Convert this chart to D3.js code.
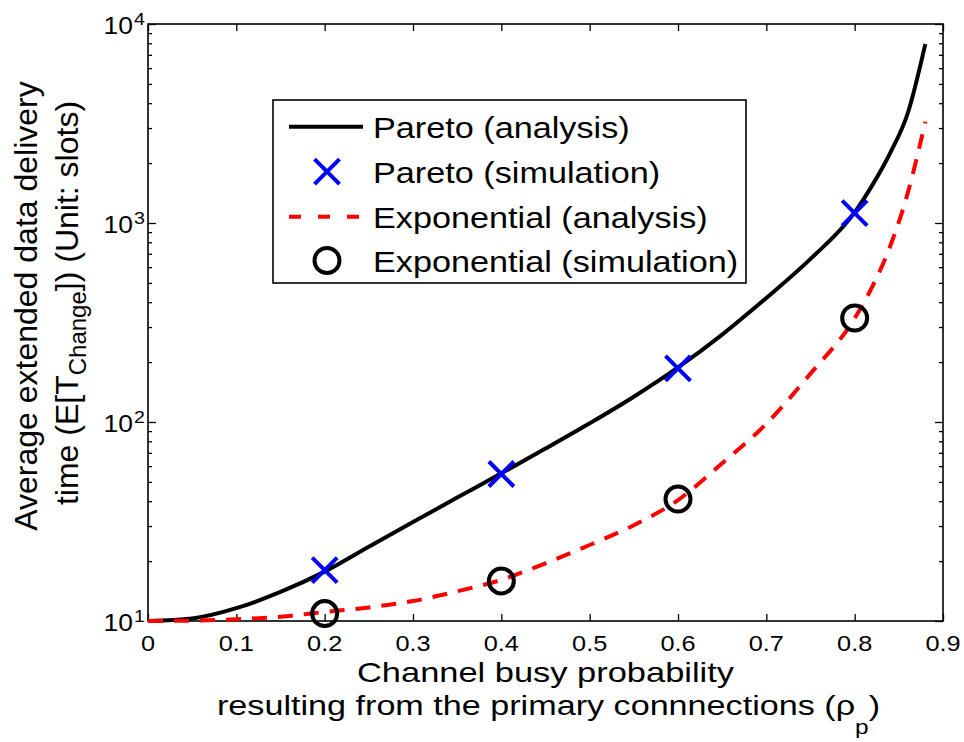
<!DOCTYPE html>
<html>
<head>
<meta charset="utf-8">
<script src="https://cdn.jsdelivr.net/npm/d3@7"></script>
<style>
  html, body { margin: 0; padding: 0; background: #fff; }
  svg { display: block; }
  text { font-family: "Liberation Sans", Arial, Helvetica, sans-serif; fill: #000; }
</style>
</head>
<body>
<svg id="chart" width="964" height="742"></svg>
<script>
// ---------------- data ----------------
const xTicks = [0, 0.1, 0.2, 0.3, 0.4, 0.5, 0.6, 0.7, 0.8, 0.9];
const xTickLabels = ["0", "0.1", "0.2", "0.3", "0.4", "0.5", "0.6", "0.7", "0.8", "0.9"];
const yDecades = [1, 2, 3, 4];           // 10^1 .. 10^4

const analysisX      = [0, 0.05, 0.1, 0.15, 0.2, 0.25, 0.3, 0.35, 0.4, 0.45, 0.5, 0.55, 0.6, 0.65, 0.7, 0.75, 0.8, 0.82, 0.84, 0.86, 0.88];
const paretoAnalysis = [10, 10.3, 11.6, 14, 17.7, 23.6, 31.4, 41.7, 55.2, 73.5, 98.5, 134, 188, 275, 420, 660, 1130, 1550, 2240, 3550, 7930];
const expAnalysis    = [10, 10.05, 10.2, 10.5, 11.1, 11.7, 12.6, 14.1, 16.1, 19.5, 24.1, 30.3, 40.5, 62, 98, 175, 332, 479, 760, 1410, 3226];

const simX = [0.2, 0.4, 0.6, 0.8];
const paretoSim = [18.0, 54.8, 186, 1120];
const expSim    = [10.9, 15.9, 41, 333];

const legendLabels = ["Pareto (analysis)", "Pareto (simulation)", "Exponential (analysis)", "Exponential (simulation)"];

// ---------------- layout ----------------
const svg = d3.select("#chart");
const L = 148, R = 943, T = 24, B = 621;
const SX = 1.15; // horizontal glyph stretch seen in the reference

const x = d3.scaleLinear().domain([0, 0.9]).range([L, R]);
const y = d3.scaleLog().domain([10, 10000]).range([B, T]);

function stext(g, tx, ty, anchor, size, str, sx) {
  return g.append("text")
    .attr("transform", `translate(${tx},${ty}) scale(${sx === undefined ? SX : sx},1)`)
    .attr("text-anchor", anchor)
    .attr("font-size", size)
    .text(str);
}

// ---------------- axes frame ----------------
const axG = svg.append("g");
axG.append("g").attr("transform", `translate(0,${B})`)
  .call(d3.axisBottom(x).tickValues(xTicks).tickSize(-7).tickFormat(""));
axG.append("g").attr("transform", `translate(0,${T})`)
  .call(d3.axisTop(x).tickValues(xTicks).tickSize(-7).tickFormat(""));

const minorVals = [];
yDecades.slice(0, 3).forEach(d => { for (let m = 2; m <= 9; m++) minorVals.push(m * Math.pow(10, d)); });
const majorVals = yDecades.map(d => Math.pow(10, d));

axG.append("g").attr("transform", `translate(${L},0)`).call(d3.axisLeft(y).tickValues(majorVals).tickSize(-8).tickFormat(""));
axG.append("g").attr("transform", `translate(${L},0)`).call(d3.axisLeft(y).tickValues(minorVals).tickSize(-4).tickFormat(""));
axG.append("g").attr("transform", `translate(${R},0)`).call(d3.axisRight(y).tickValues(majorVals).tickSize(-8).tickFormat(""));
axG.append("g").attr("transform", `translate(${R},0)`).call(d3.axisRight(y).tickValues(minorVals).tickSize(-4).tickFormat(""));
axG.selectAll(".domain").remove();
axG.selectAll(".tick line").attr("stroke", "#000").attr("stroke-width", 1.3);

axG.append("rect").attr("x", L).attr("y", T).attr("width", R - L).attr("height", B - T)
  .attr("fill", "none").attr("stroke", "#000").attr("stroke-width", 1.6);

// x tick labels
xTicks.forEach((v, i) => stext(axG, x(v), 651, "middle", 22, xTickLabels[i]));

// y tick labels 10^n
yDecades.forEach(d => {
  const yy = y(Math.pow(10, d));
  stext(axG, 133, yy + 10, "end", 23, "10");
  stext(axG, 134, yy + 1, "start", 17, String(d));
});

// ---------------- axis titles ----------------
stext(svg, (L + R) / 2, 682, "middle", 28, "Channel busy probability", 1.23);
const t2 = svg.append("text")
  .attr("transform", `translate(${(L + R) / 2 + 3},715) scale(1.22,1)`)
  .attr("text-anchor", "middle").attr("font-size", 28);
t2.append("tspan").text("resulting from the primary connnections (\u03C1");
t2.append("tspan").attr("font-size", 20).attr("dy", 19).text("p");
t2.append("tspan").attr("dy", -19).text(")");

svg.append("text")
  .attr("transform", `translate(37,306) rotate(-90)`)
  .attr("text-anchor", "middle").attr("font-size", 32)
  .text("Average extended data delivery");
const yt2 = svg.append("text")
  .attr("transform", `translate(78,303) rotate(-90)`)
  .attr("text-anchor", "middle").attr("font-size", 32);
yt2.append("tspan").text("time (E[T");
yt2.append("tspan").attr("font-size", 24).attr("dy", 8).text("Change");
yt2.append("tspan").attr("dy", -8).text("]) (Unit: slots)");

// ---------------- series ----------------
const lineGen = d3.line().x(d => x(d[0])).y(d => y(d[1])).curve(d3.curveMonotoneX);
const plot = svg.append("g");

plot.append("path").datum(d3.zip(analysisX, paretoAnalysis))
  .attr("d", lineGen).attr("fill", "none").attr("stroke", "#000").attr("stroke-width", 4)
  .attr("stroke-linejoin", "round");

plot.append("path").datum(d3.zip(analysisX, expAnalysis))
  .attr("d", lineGen).attr("fill", "none").attr("stroke", "#ff0000").attr("stroke-width", 4)
  .attr("stroke-dasharray", "15,11");

const XS = 12.5;
plot.selectAll(".xm").data(d3.zip(simX, paretoSim)).enter().append("path")
  .attr("d", d => `M${x(d[0]) - XS},${y(d[1]) - XS}L${x(d[0]) + XS},${y(d[1]) + XS}M${x(d[0]) - XS},${y(d[1]) + XS}L${x(d[0]) + XS},${y(d[1]) - XS}`)
  .attr("stroke", "#0000ff").attr("stroke-width", 4).attr("fill", "none");

plot.selectAll(".om").data(d3.zip(simX, expSim)).enter().append("circle")
  .attr("cx", d => x(d[0])).attr("cy", d => y(d[1])).attr("r", 12.5)
  .attr("fill", "none").attr("stroke", "#000").attr("stroke-width", 4);

// ---------------- legend ----------------
const lg = svg.append("g");
lg.append("rect").attr("x", 273).attr("y", 100).attr("width", 473).attr("height", 183)
  .attr("fill", "#fff").attr("stroke", "#000").attr("stroke-width", 1.6);
const rowY = [126.7, 171.7, 216.7, 260.5];
lg.append("line").attr("x1", 289).attr("x2", 363).attr("y1", rowY[0]).attr("y2", rowY[0])
  .attr("stroke", "#000").attr("stroke-width", 4);
{
  const cx = 327, cy = rowY[1], s = 12.5;
  lg.append("path").attr("d", `M${cx - s},${cy - s}L${cx + s},${cy + s}M${cx - s},${cy + s}L${cx + s},${cy - s}`)
    .attr("stroke", "#0000ff").attr("stroke-width", 4);
}
lg.append("line").attr("x1", 289).attr("x2", 363).attr("y1", rowY[2]).attr("y2", rowY[2])
  .attr("stroke", "#ff0000").attr("stroke-width", 4).attr("stroke-dasharray", "12,17");
lg.append("circle").attr("cx", 327).attr("cy", rowY[3]).attr("r", 12.5)
  .attr("fill", "none").attr("stroke", "#000").attr("stroke-width", 4);
legendLabels.forEach((s, i) => stext(lg, 373, rowY[i] + 11.6, "start", 29.5, s, 1.16));
</script>
</body>
</html>
